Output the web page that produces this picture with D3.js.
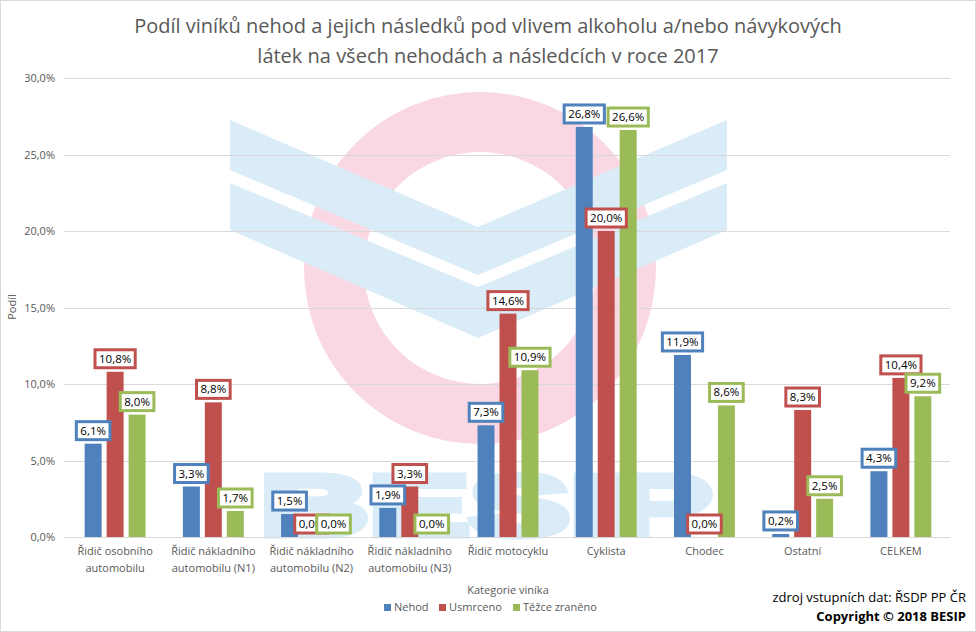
<!DOCTYPE html>
<html><head><meta charset="utf-8">
<script src="https://cdn.jsdelivr.net/npm/d3@7"></script>
<style>body{margin:0;background:#fff}svg{display:block;font-family:"Open Sans",sans-serif}</style>
</head><body><svg id="c" width="976" height="632"></svg>
<script>
const categories = [
  ["Řidič osobního","automobilu"],
  ["Řidič nákladního","automobilu (N1)"],
  ["Řidič nákladního","automobilu (N2)"],
  ["Řidič nákladního","automobilu (N3)"],
  ["Řidič motocyklu"],
  ["Cyklista"],
  ["Chodec"],
  ["Ostatní"],
  ["CELKEM"]
];
const seriesNames = ["Nehod","Usmrceno","Těžce zraněno"];
const nehod      = [6.1, 3.3, 1.5, 1.9, 7.3, 26.8, 11.9, 0.2, 4.3];
const usmrceno   = [10.8, 8.8, 0.0, 3.3, 14.6, 20.0, 0.0, 8.3, 10.4];
const tezce      = [8.0, 1.7, 0.0, 0.0, 10.9, 26.6, 8.6, 2.5, 9.2];
const yTicks = [0, 5, 10, 15, 20, 25, 30];
const colors = ["#4f81bd","#c0504d","#9bbb59"];
const titleLines = ["Podíl viníků nehod a jejich následků pod vlivem alkoholu a/nebo návykových","látek na všech nehodách a následcích v roce 2017"];

const svg = d3.select("#c");
const W = 976, H = 632;
const L = 66, R = 950, T = 78, B = 537;
const fmt = v => d3.format(".1f")(v).replace(".", ",") + "%";

svg.append("rect").attr("x",0.5).attr("y",0.5).attr("width",W-1).attr("height",H-1)
  .attr("fill","#fff").attr("stroke","#d9d9d9");

// watermark
const wm = svg.append("g");
wm.append("circle").attr("cx",480).attr("cy",268).attr("r",146)
  .attr("fill","none").attr("stroke","#f9d8e4").attr("stroke-width",60);
const line = d3.line();
wm.append("path").attr("d", line([[230,120],[478,227],[727,120],[727,170],[478,275],[230,170]]) + "Z").attr("fill","#d9ecf7");
wm.append("path").attr("d", line([[230,183],[478,287],[727,183],[727,230],[478,338],[230,230]]) + "Z").attr("fill","#d9ecf7");
wm.append("text").attr("x",260).attr("y",535).attr("textLength",452).attr("lengthAdjust","spacingAndGlyphs")
  .attr("font-family","Liberation Sans, Arial").attr("font-weight","bold").attr("font-size",86)
  .attr("fill","#d9ecf7").attr("stroke","#d9ecf7").attr("stroke-width",7).attr("stroke-linejoin","miter")
  .text("BESIP");

// title
svg.append("g").selectAll("text").data(titleLines).join("text")
  .attr("x",488).attr("y",(d,i)=>33+i*30).attr("text-anchor","middle")
  .attr("font-size",20).attr("fill","#595959").text(d=>d);

const y = d3.scaleLinear().domain([0,30]).range([B,T]);
const x0 = d3.scaleBand().domain(d3.range(categories.length)).range([L,R]).paddingInner(0.38).paddingOuter(0.19);
const x1 = d3.scaleBand().domain(d3.range(3)).range([0,x0.bandwidth()]).paddingInner(0.227);

// grid
svg.append("g").selectAll("line").data(yTicks).join("line")
  .attr("x1",L-2).attr("x2",R).attr("y1",d=>Math.round(y(d))+0.5).attr("y2",d=>Math.round(y(d))+0.5)
  .attr("stroke","#d9d9d9");
svg.append("g").selectAll("text").data(yTicks).join("text")
  .attr("x",55).attr("y",d=>y(d)+4).attr("text-anchor","end").attr("font-size",11).attr("fill","#595959").text(fmt);

svg.append("text").attr("transform","translate(16,307) rotate(-90)").attr("text-anchor","middle")
  .attr("font-size",11).attr("fill","#595959").text("Podíl");

const series = [nehod, usmrceno, tezce];
const barData = [];
series.forEach((vals,s)=>vals.forEach((v,i)=>barData.push({s,i,v})));

svg.append("g").selectAll("rect").data(barData).join("rect")
  .attr("x",d=>x0(d.i)+x1(d.s)).attr("width",x1.bandwidth())
  .attr("y",d=>y(d.v)).attr("height",d=>B-y(d.v)).attr("fill",d=>colors[d.s]);

// data labels
const lab = svg.append("g");
barData.forEach(d=>{
  const cx = x0(d.i)+x1(d.s)+x1.bandwidth()/2;
  const g = lab.append("g");
  const t = g.append("text").attr("x",cx).attr("y",y(d.v)-9).attr("text-anchor","middle")
    .attr("font-size",11.5).attr("fill","#000").text(fmt(d.v));
  const w = t.node().getComputedTextLength()+8;
  g.insert("rect","text").attr("x",cx-w/2).attr("y",y(d.v)-22).attr("width",w).attr("height",18)
    .attr("fill","#fff").attr("stroke",colors[d.s]).attr("stroke-width",3);
});

// x labels
const xl = svg.append("g");
categories.forEach((c,i)=>{
  c.forEach((ln,j)=>xl.append("text").attr("x",x0(i)+x0.bandwidth()/2).attr("y",555+j*17)
    .attr("text-anchor","middle").attr("font-size",11).attr("fill","#595959").text(ln));
});
svg.append("text").attr("x",508).attr("y",594).attr("text-anchor","middle").attr("font-size",11)
  .attr("fill","#595959").text("Kategorie viníka");

// legend
const legX = [384, 439, 513];
const lg = svg.append("g").selectAll("g").data(seriesNames).join("g")
  .attr("transform",(d,i)=>`translate(${legX[i]},611)`);
lg.append("rect").attr("x",0).attr("y",-7).attr("width",7).attr("height",7).attr("fill",(d,i)=>colors[i]);
lg.append("text").attr("x",10).attr("y",0).attr("font-size",11).attr("fill","#595959").text(d=>d);

svg.append("text").attr("x",966).attr("y",602).attr("text-anchor","end").attr("font-size",13)
  .attr("fill","#000").text("zdroj vstupních dat: ŘSDP PP ČR");
svg.append("text").attr("x",966).attr("y",621).attr("text-anchor","end").attr("font-size",13)
  .attr("font-weight","bold").attr("fill","#000").text("Copyright © 2018  BESIP");
</script></body></html>
